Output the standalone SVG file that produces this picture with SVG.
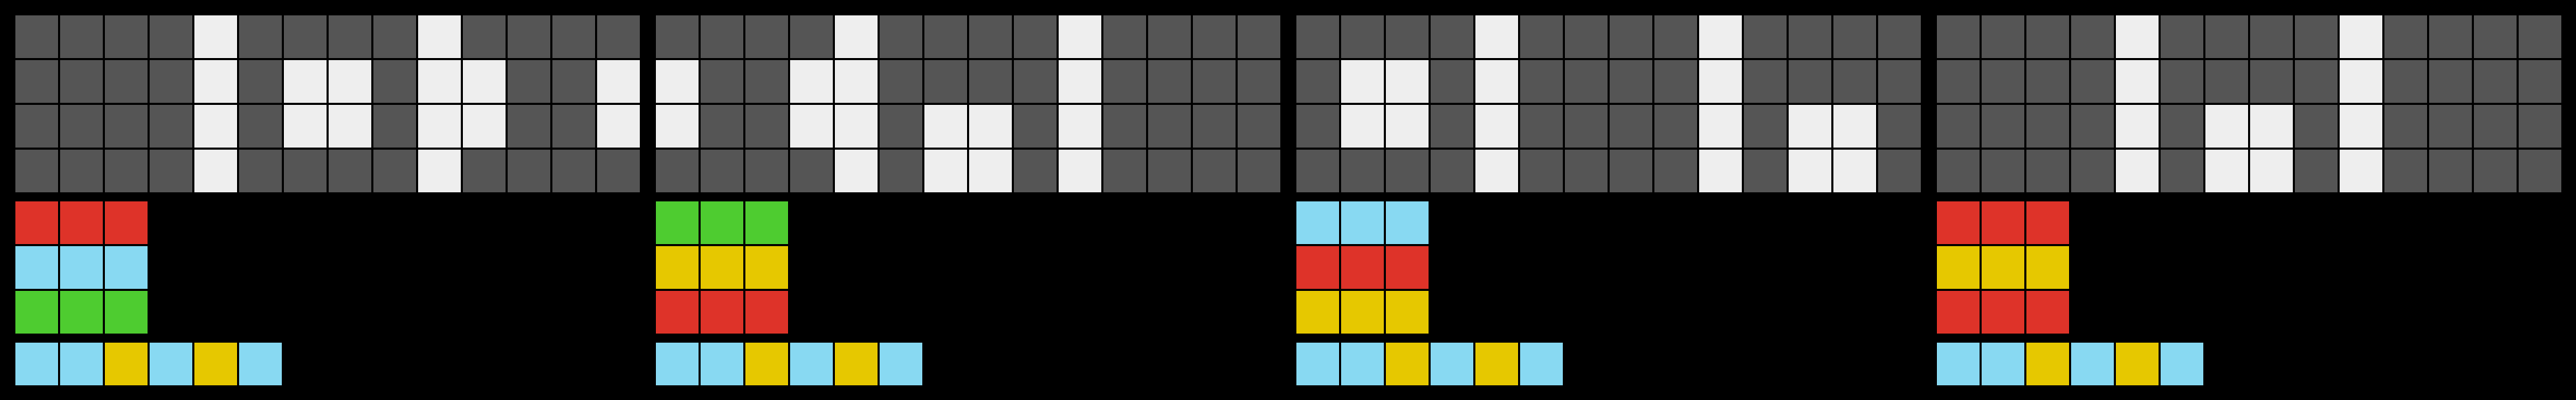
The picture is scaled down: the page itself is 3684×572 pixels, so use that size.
<svg xmlns="http://www.w3.org/2000/svg" xmlns:xlink="http://www.w3.org/1999/xlink" width="3684" height="572" viewBox="0 0 3684 572">
<style>
.g{fill:#555555}.w{fill:#EEEEEE}.r{fill:#DE3329}.c{fill:#88D9F2}.n{fill:#4ECC30}.y{fill:#E6C800}
</style>
<defs>
<rect id="k" width="61" height="61"/>
<g id="grid">
<g class="g">
<use xlink:href="#k" x="0" y="0"/><use xlink:href="#k" x="64" y="0"/><use xlink:href="#k" x="128" y="0"/><use xlink:href="#k" x="192" y="0"/><use xlink:href="#k" x="256" y="0"/><use xlink:href="#k" x="320" y="0"/><use xlink:href="#k" x="384" y="0"/><use xlink:href="#k" x="448" y="0"/><use xlink:href="#k" x="512" y="0"/><use xlink:href="#k" x="576" y="0"/><use xlink:href="#k" x="640" y="0"/><use xlink:href="#k" x="704" y="0"/><use xlink:href="#k" x="768" y="0"/><use xlink:href="#k" x="832" y="0"/>
<use xlink:href="#k" x="0" y="64"/><use xlink:href="#k" x="64" y="64"/><use xlink:href="#k" x="128" y="64"/><use xlink:href="#k" x="192" y="64"/><use xlink:href="#k" x="256" y="64"/><use xlink:href="#k" x="320" y="64"/><use xlink:href="#k" x="384" y="64"/><use xlink:href="#k" x="448" y="64"/><use xlink:href="#k" x="512" y="64"/><use xlink:href="#k" x="576" y="64"/><use xlink:href="#k" x="640" y="64"/><use xlink:href="#k" x="704" y="64"/><use xlink:href="#k" x="768" y="64"/><use xlink:href="#k" x="832" y="64"/>
<use xlink:href="#k" x="0" y="128"/><use xlink:href="#k" x="64" y="128"/><use xlink:href="#k" x="128" y="128"/><use xlink:href="#k" x="192" y="128"/><use xlink:href="#k" x="256" y="128"/><use xlink:href="#k" x="320" y="128"/><use xlink:href="#k" x="384" y="128"/><use xlink:href="#k" x="448" y="128"/><use xlink:href="#k" x="512" y="128"/><use xlink:href="#k" x="576" y="128"/><use xlink:href="#k" x="640" y="128"/><use xlink:href="#k" x="704" y="128"/><use xlink:href="#k" x="768" y="128"/><use xlink:href="#k" x="832" y="128"/>
<use xlink:href="#k" x="0" y="192"/><use xlink:href="#k" x="64" y="192"/><use xlink:href="#k" x="128" y="192"/><use xlink:href="#k" x="192" y="192"/><use xlink:href="#k" x="256" y="192"/><use xlink:href="#k" x="320" y="192"/><use xlink:href="#k" x="384" y="192"/><use xlink:href="#k" x="448" y="192"/><use xlink:href="#k" x="512" y="192"/><use xlink:href="#k" x="576" y="192"/><use xlink:href="#k" x="640" y="192"/><use xlink:href="#k" x="704" y="192"/><use xlink:href="#k" x="768" y="192"/><use xlink:href="#k" x="832" y="192"/>
</g>
<g class="w">
<use xlink:href="#k" x="256" y="0"/><use xlink:href="#k" x="256" y="64"/><use xlink:href="#k" x="256" y="128"/><use xlink:href="#k" x="256" y="192"/>
<use xlink:href="#k" x="576" y="0"/><use xlink:href="#k" x="576" y="64"/><use xlink:href="#k" x="576" y="128"/><use xlink:href="#k" x="576" y="192"/>
</g>
</g>
<g id="row3"><use xlink:href="#k" x="0"/><use xlink:href="#k" x="64"/><use xlink:href="#k" x="128"/></g>
<g id="seq">
<use xlink:href="#k" class="c" x="0"/><use xlink:href="#k" class="c" x="64"/><use xlink:href="#k" class="y" x="128"/><use xlink:href="#k" class="c" x="192"/><use xlink:href="#k" class="y" x="256"/><use xlink:href="#k" class="c" x="320"/>
</g>
</defs>
<rect width="3684" height="572" fill="#000000"/>
<g id="panel1" transform="translate(22,22)">
<use xlink:href="#grid"/>
<g class="w">
<use xlink:href="#k" x="384" y="64"/><use xlink:href="#k" x="448" y="64"/><use xlink:href="#k" x="640" y="64"/><use xlink:href="#k" x="832" y="64"/>
<use xlink:href="#k" x="384" y="128"/><use xlink:href="#k" x="448" y="128"/><use xlink:href="#k" x="640" y="128"/><use xlink:href="#k" x="832" y="128"/>
</g>
<use xlink:href="#row3" class="r" y="266"/>
<use xlink:href="#row3" class="c" y="330"/>
<use xlink:href="#row3" class="n" y="394"/>
<use xlink:href="#seq" y="468"/>
</g>
<g id="panel2" transform="translate(938,22)">
<use xlink:href="#grid"/>
<g class="w">
<use xlink:href="#k" x="0" y="64"/><use xlink:href="#k" x="192" y="64"/>
<use xlink:href="#k" x="0" y="128"/><use xlink:href="#k" x="192" y="128"/><use xlink:href="#k" x="384" y="128"/><use xlink:href="#k" x="448" y="128"/>
<use xlink:href="#k" x="384" y="192"/><use xlink:href="#k" x="448" y="192"/>
</g>
<use xlink:href="#row3" class="n" y="266"/>
<use xlink:href="#row3" class="y" y="330"/>
<use xlink:href="#row3" class="r" y="394"/>
<use xlink:href="#seq" y="468"/>
</g>
<g id="panel3" transform="translate(1854,22)">
<use xlink:href="#grid"/>
<g class="w">
<use xlink:href="#k" x="64" y="64"/><use xlink:href="#k" x="128" y="64"/>
<use xlink:href="#k" x="64" y="128"/><use xlink:href="#k" x="128" y="128"/><use xlink:href="#k" x="704" y="128"/><use xlink:href="#k" x="768" y="128"/>
<use xlink:href="#k" x="704" y="192"/><use xlink:href="#k" x="768" y="192"/>
</g>
<use xlink:href="#row3" class="c" y="266"/>
<use xlink:href="#row3" class="r" y="330"/>
<use xlink:href="#row3" class="y" y="394"/>
<use xlink:href="#seq" y="468"/>
</g>
<g id="panel4" transform="translate(2770,22)">
<use xlink:href="#grid"/>
<g class="w">
<use xlink:href="#k" x="384" y="128"/><use xlink:href="#k" x="448" y="128"/>
<use xlink:href="#k" x="384" y="192"/><use xlink:href="#k" x="448" y="192"/>
</g>
<use xlink:href="#row3" class="r" y="266"/>
<use xlink:href="#row3" class="y" y="330"/>
<use xlink:href="#row3" class="r" y="394"/>
<use xlink:href="#seq" y="468"/>
</g>
<g id="connectors"/>
</svg>
